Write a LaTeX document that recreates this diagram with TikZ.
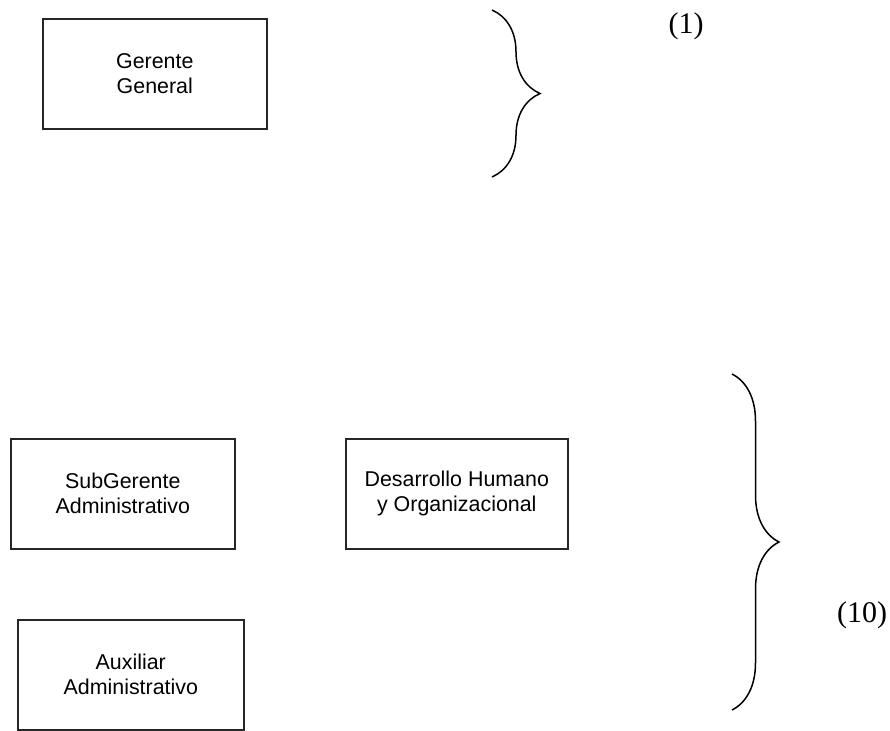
\documentclass[tikz,border=0pt]{standalone}
\usepackage{fontspec}
\setmainfont{Liberation Serif}
\setsansfont{Liberation Sans}
\usetikzlibrary{decorations.pathreplacing}

\begin{document}
\begin{tikzpicture}[
	x=0.5pt,
	y=-0.5pt,
	font=\sffamily\fontsize{10.7}{12.5}\selectfont,
	puesto/.style={
		draw=black!85,
		line width=.8pt,
		minimum width=112pt,
		minimum height=55pt,
		inner sep=0pt,
		align=center,
		anchor=north west
	},
	llave/.style={
		decorate,
		decoration={brace, amplitude=#1},
		line width=.75pt
	},
	nivel/.style={
		font=\rmfamily\fontsize{15}{18}\selectfont
	}
	]
	\useasboundingbox (0,0) rectangle (890,730);

	% nivel directivo
	\node[puesto] (gerente) at (42,18) {Gerente\\General};
	\draw[llave=24pt] (492,10) coordinate (l1a) -- (492,177) coordinate (l1b);
	\node[nivel] (n1) at (686,26) {(1)};

	% nivel administrativo
	\node[puesto] (subgerente) at (10,438) {SubGerente\\Administrativo};
	\node[puesto, minimum width=111pt] (desarrollo) at (345,438) {Desarrollo Humano\\y Organizacional};
	\node[puesto, minimum width=113pt] (auxiliar) at (17,619) {Auxiliar\\Administrativo};
	\draw[llave=23.5pt] (732,374) coordinate (l10a) -- (732,710) coordinate (l10b);
	\node[nivel] (n10) at (862,615) {(10)};
\end{tikzpicture}
\end{document}
